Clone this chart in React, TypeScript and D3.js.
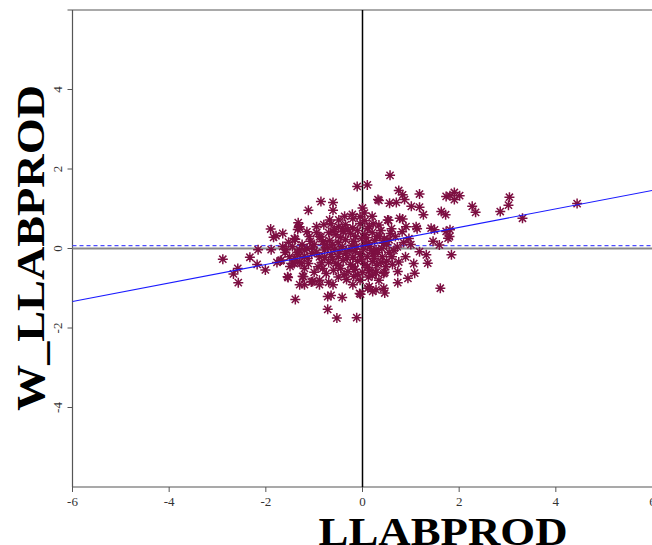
import React from 'react'
import * as d3 from 'd3'

// LLABPROD (x) vs spatially lagged W_LLABPROD (y)
const observations: [number, number][] = [
  // left tail
  [-2.89, -0.27], [-2.58, -0.5], [-2.67, -0.64], [-2.57, -0.86], [-2.33, -0.22], [-2.18, -0.4],
  [-2.16, -0.03], [-2.01, -0.54], [-1.89, -0.03], [-1.9, 0.49], [-1.84, 0.28], [-1.79, 0.32],
  [-1.77, -0.35], [-1.7, -0.31], [-1.53, 0.16], [-1.54, -0.73], [-1.39, 0.23], [-1.33, 0.65],
  [-1.32, 0.53], [-1.39, -1.28], [-1.12, 0.96], [-1.3, -0.91], [-1.22, -0.71], [-1.44, -0.37],
  [-1.45, 0.05], [-1.35, -0.1], [-1.25, 0.1], [-1.2, -0.2], [-1.4, -0.25], [-1.3, -0.35],
  [-1.15, 0.0], [-1.6, -0.1], [-1.5, -0.45], [-1.65, 0.05], [-1.58, -0.03], [-1.34, -0.16],
  [-1.27, -0.37],
  // left of centre
  [-0.11, 1.56], [0.1, 1.6], [-0.86, 1.18], [-0.61, 1.16], [-0.61, 0.96], [-0.68, 0.72],
  [-0.49, 0.72], [-0.37, 0.81], [-0.21, 0.86], [0.0, 1.02], [0.04, 0.89], [-1.3, 0.55],
  [0.32, 1.23], [0.14, 0.55], [-0.41, 0.51], [-0.61, 0.43], [-1.1, 0.3], [-0.89, 0.3],
  [-0.72, -1.21], [-0.72, -1.53], [-0.53, -1.75], [-0.12, -1.74], [-0.42, -1.23], [-0.06, -1.13],
  [0.11, -1.0], [0.28, -1.04], [-0.89, -0.91], [-0.61, -0.91], [-1.24, -0.7], [-1.03, -0.83],
  [-1.2, -0.91], [-0.2, -0.91], [-0.65, -1.18], [-0.04, -1.15],
  [-1.34, 0.48], [-1.41, 0.25], [-0.86, 0.29], [-0.82, 0.17], [-1.65, 0.38], [-1.3, -0.04],
  [-1.2, -0.04], [-1.03, 0.04], [-1.51, -0.21], [-1.41, -0.38], [-1.13, -0.25], [-0.89, -0.21],
  [-0.79, -0.04], [-0.92, -0.46], [-1.2, -0.5], [-1.55, -0.71], [-1.06, -0.84], [-0.89, -0.8],
  [-1.68, -0.29], [-0.75, -0.63], [-0.95, 0.55], [-0.8, 0.6], [-1.0, 0.1], [-0.95, -0.1],
  [-0.85, -0.35], [-1.0, -0.6],
  // dense centre
  [-0.65, 0.62], [-0.5, 0.55], [-0.35, 0.6], [-0.2, 0.52], [-0.05, 0.62], [0.1, 0.5], [0.22, 0.62],
  [-0.7, 0.4], [-0.55, 0.35], [-0.4, 0.42], [-0.25, 0.38], [-0.1, 0.45], [0.05, 0.35], [0.2, 0.4],
  [0.3, 0.3], [-0.68, 0.2], [-0.5, 0.15], [-0.35, 0.22], [-0.18, 0.18], [-0.02, 0.25], [0.12, 0.15],
  [0.25, 0.2], [-0.72, 0.02], [-0.58, -0.02], [-0.42, 0.05], [-0.28, -0.05], [-0.12, 0.05],
  [0.02, -0.02], [0.15, 0.05], [0.28, -0.03], [-0.65, -0.15], [-0.5, -0.2], [-0.35, -0.12],
  [-0.2, -0.22], [-0.05, -0.15], [0.1, -0.2], [0.22, -0.12], [-0.7, -0.35], [-0.55, -0.38],
  [-0.4, -0.3], [-0.25, -0.4], [-0.1, -0.32], [0.05, -0.4], [0.2, -0.33], [0.3, -0.42],
  [-0.6, -0.55], [-0.45, -0.5], [-0.3, -0.58], [-0.15, -0.52], [0.0, -0.6], [0.15, -0.55],
  [0.27, -0.6], [-0.5, -0.72], [-0.33, -0.78], [-0.18, -0.7], [-0.05, -0.8], [0.12, -0.72],
  [-0.2, 0.75], [-0.05, 0.8], [0.05, 0.7],
  [-0.58, 0.48], [-0.3, 0.48], [-0.15, 0.3], [0.08, 0.27], [-0.45, 0.28], [-0.62, 0.1],
  [-0.22, 0.08], [0.06, 0.1], [-0.48, -0.08], [-0.15, -0.08], [0.18, -0.05], [-0.62, -0.27],
  [-0.32, -0.23], [-0.02, -0.27], [0.25, -0.25], [-0.5, -0.42], [-0.2, -0.45], [0.1, -0.47],
  [-0.38, -0.66], [-0.1, -0.66], [0.2, -0.68], [-0.78, 0.1], [-0.78, -0.22], [-0.82, -0.5],
  [-1.08, 0.18], [-1.12, -0.38], [-0.95, 0.4], [-1.05, -0.12], [-1.15, 0.42], [-0.7, -0.85],
  // right of centre
  [0.57, 1.84], [0.75, 1.46], [0.83, 1.35], [1.18, 1.37], [0.34, 1.21], [0.56, 1.14], [0.7, 1.16],
  [0.87, 1.23], [1.01, 1.06], [1.18, 1.04], [0.2, 0.81], [0.52, 0.72], [0.77, 0.76], [0.83, 0.74],
  [1.26, 0.85], [1.63, 0.93], [1.72, 0.85], [1.73, 1.31], [1.9, 1.41], [1.9, 1.23], [1.81, 1.33],
  [1.11, 0.55], [1.42, 0.51], [1.49, 0.47], [1.73, 0.43], [1.77, 0.26], [1.59, 0.09], [1.46, 0.18],
  [1.84, -0.16], [1.32, -0.16], [1.35, -0.37], [1.18, -0.08], [0.73, -0.58], [0.94, -0.75],
  [1.08, -0.62], [0.73, -0.86], [0.46, -0.6], [0.28, -0.6], [1.61, -1.0], [0.21, -1.08],
  [0.46, -1.12], [0.14, -0.96],
  [0.54, 0.71], [0.34, 0.59], [1.13, 0.5], [0.58, 0.38], [0.82, 0.42], [0.96, 0.25], [0.44, 0.13],
  [0.72, 0.04], [0.89, -0.21], [0.61, -0.21], [0.41, -0.21], [0.75, -0.34], [1.06, -0.38],
  [0.48, -0.46], [0.44, -0.63], [0.34, -0.8], [0.44, -1.0],
  [0.35, 0.3], [0.4, 0.0], [0.32, -0.1], [0.45, 0.25], [0.38, -0.35], [0.5, 0.1],
  [0.6, 0.5], [0.9, 0.55], [1.0, 0.1], [0.65, -0.05], [0.85, 0.15],
  [0.55, -0.1], [0.55, 0.22], [0.62, -0.4], [0.68, 0.3], [0.5, -0.32], [0.38, 0.45],
  // right tail
  [2.01, 1.33], [2.27, 1.06], [2.34, 0.91], [3.04, 1.29], [3.02, 1.09], [2.85, 0.93], [3.31, 0.76],
  [4.44, 1.13], [1.81, 0.47], [1.8, 0.3]
]

const xTicks = [-6, -4, -2, 0, 2, 4, 6]
const yTicks = [-4, -2, 0, 2, 4]

// Moran scatterplot fit and mean of the lag
const slope = 0.233
const intercept = 0.065
const meanLag = 0.07

const x = d3.scaleLinear().domain([-6, 6]).range([72.5, 652.5])
const y = d3.scaleLinear().domain([-6, 6]).range([487, 10])

const serif = '"Liberation Serif", "Times New Roman", serif'

// R's pch 8: a "+" laid over an "x"
function asterisk(cx: number, cy: number, r: number) {
  const d = r * 0.72
  return `M${cx - r},${cy}H${cx + r}M${cx},${cy - r}V${cy + r}` +
    `M${cx - d},${cy - d}L${cx + d},${cy + d}M${cx - d},${cy + d}L${cx + d},${cy - d}`
}

export default function App() {
  const [x0, x1] = x.range()
  const [yb, yt] = y.range()
  const fit = d3.line<number>()
    .x(d => x(d))
    .y(d => y(intercept + slope * d))

  return (
    <svg width={652} height={545} style={{ position: 'absolute', left: 0, top: 0, background: '#fff' }}>
      {/* frame */}
      <line x1={x0 - 5} x2={x1} y1={yt} y2={yt} stroke="#555" strokeWidth={1} />
      <line x1={x0} x2={x0} y1={yt} y2={yb} stroke="#555" strokeWidth={1.2} />
      <line x1={x0} x2={x1} y1={yb} y2={yb} stroke="#555" strokeWidth={1.2} />

      {/* x axis ticks */}
      {xTicks.map(t => (
        <g key={'x' + t}>
          <line x1={x(t)} x2={x(t)} y1={yb} y2={yb + 5} stroke="#555" />
          <text x={x(t)} y={506} textAnchor="middle" fontFamily={serif} fontSize={13} fill="#333">{t}</text>
        </g>
      ))}

      {/* y axis ticks */}
      {yTicks.map(t => (
        <g key={'y' + t}>
          <line x1={x0 - 5} x2={x0} y1={y(t)} y2={y(t)} stroke="#555" />
          <text transform={`translate(62,${y(t)}) rotate(-90)`} textAnchor="middle" fontFamily={serif} fontSize={13} fill="#333">{t}</text>
        </g>
      ))}

      {/* reference lines */}
      <line x1={x0} x2={x1} y1={y(0)} y2={y(0)} stroke="#888" strokeWidth={2} />
      <line x1={x0} x2={x1} y1={y(meanLag)} y2={y(meanLag)} stroke="#4d4dff" strokeWidth={1.3} strokeDasharray="4,3" />
      <line x1={x(0)} x2={x(0)} y1={yt} y2={yb} stroke="#000" strokeWidth={1.5} />

      {/* points */}
      <g stroke="#7d0f42" strokeWidth={1.5} fill="none">
        {observations.map(([a, b], i) => (
          <path key={i} d={asterisk(x(a), y(b), 5)} />
        ))}
      </g>

      {/* regression line */}
      <path d={fit([-6, 6]) ?? ''} stroke="#1a1aff" strokeWidth={1.1} fill="none" />

      {/* axis titles */}
      <text x={443} y={545} textAnchor="middle" fontFamily={serif} fontWeight="bold" fontSize={41}
        textLength={249} lengthAdjust="spacingAndGlyphs" fill="#000">LLABPROD</text>
      <text transform="translate(44,248) rotate(-90)" textAnchor="middle" fontFamily={serif} fontWeight="bold"
        fontSize={40} textLength={326} lengthAdjust="spacingAndGlyphs" fill="#000">W_LLABPROD</text>
    </svg>
  )
}
